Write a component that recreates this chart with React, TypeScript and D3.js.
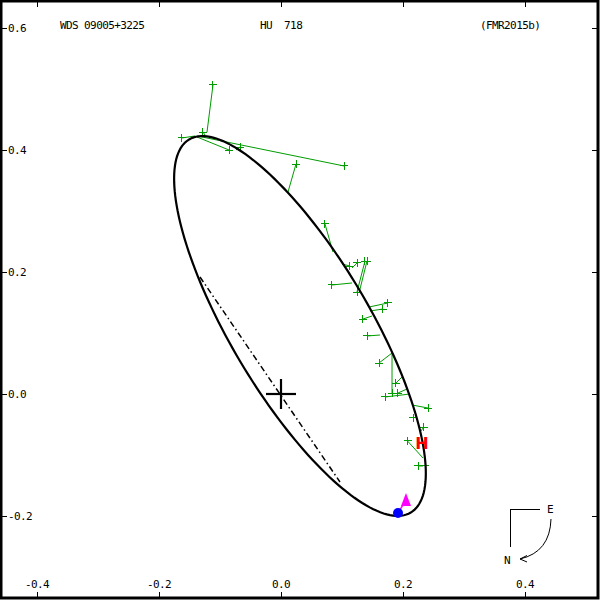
import * as React from 'react';
import * as d3 from 'd3';

const W = 600;
const H = 600;

const xTicks = [-0.4, -0.2, 0.0, 0.2, 0.4];
const yTicks = [0.6, 0.4, 0.2, 0.0, -0.2];
const xTickLabels = ['-0.4', '-0.2', '0.0', '0.2', '0.4'];
const yTickLabels = ['0.6', '0.4', '0.2', '0.0', '-0.2'];

const titleLeft = 'WDS 09005+3225';
const titleMid = 'HU  718';
const titleRight = '(FMR2015b)';

// apparent orbit: centre, semi-axes, tilt (deg, data coords)
const orbitCentre = [0.0311, 0.1115];
const orbitAxes = [0.3557, 0.1139];
const orbitTilt = -59.3;

// line of nodes ends
const nodesX = [-0.1328, 0.0967];
const nodesY = [0.1918, -0.1443];

// measures (observed) and their predicted positions on the orbit
const obsX = [-0.1115, -0.1279, -0.1623, -0.0852, -0.0672, 0.1033, 0.0246, 0.0721, 0.1131, 0.1246, 0.1377, 0.1410, 0.0836, 0.1246, 0.1754, 0.1672, 0.1344, 0.1410, 0.1607, 0.1820, 0.1885, 0.1705, 0.1918, 0.2410, 0.2164, 0.2344, 0.2074, 0.2246, 0.2361];
const obsY = [0.5066, 0.4295, 0.4197, 0.4000, 0.4049, 0.3738, 0.3770, 0.2787, 0.2098, 0.2148, 0.2180, 0.2180, 0.1787, 0.1672, 0.1492, 0.1393, 0.1229, 0.0951, 0.0508, 0.0016, 0.0180, -0.0049, 0.0016, -0.0230, -0.0393, -0.0541, -0.0770, -0.1180, -0.1180];
const predX = [-0.1213, -0.1246, -0.1410, -0.1377, -0.0738, -0.1377, 0.0115, 0.0852, 0.1000, 0.1164, 0.1246, 0.1279, 0.1164, 0.1262, 0.1443, 0.1459, 0.1492, 0.1623, 0.1820, 0.1820, 0.1984, 0.2115, 0.2066, 0.2148, 0.2180, 0.2279, 0.2328, 0.2328, 0.2377];
const predY = [0.4295, 0.4246, 0.4230, 0.4213, 0.4000, 0.4230, 0.3311, 0.2328, 0.2131, 0.2066, 0.1672, 0.1656, 0.1820, 0.1656, 0.1426, 0.1361, 0.1279, 0.0967, 0.0672, 0.0672, 0.0279, 0.0000, 0.0082, -0.0180, -0.0393, -0.0623, -0.1049, -0.1180, -0.1197];

const hMark = [0.2311, -0.0803];
const triMark = [0.2049, -0.1738];
const dotMark = [0.1918, -0.1951];

const font = '"DejaVu Sans Mono", monospace';

const App: React.FC = () => {
    const x = d3.scaleLinear().domain([-0.4, 0.4]).range([37, 525]);
    const y = d3.scaleLinear().domain([-0.2, 0.6]).range([516, 28]);

    const th = (orbitTilt * Math.PI) / 180;
    const pts: [number, number][] = d3.range(0, 361, 2).map((deg) => {
        const t = (deg * Math.PI) / 180;
        const ex = orbitAxes[0] * Math.cos(t);
        const ey = orbitAxes[1] * Math.sin(t);
        const dx = orbitCentre[0] + ex * Math.cos(th) - ey * Math.sin(th);
        const dy = orbitCentre[1] + ex * Math.sin(th) + ey * Math.cos(th);
        return [x(dx), y(dy)];
    });
    const orbitPath = d3.line().curve(d3.curveLinearClosed)(pts) || '';

    const green = '#009c00';
    const txt = { fontFamily: font, fontSize: 11, letterSpacing: '-0.6px', whiteSpace: 'pre' } as React.CSSProperties;

    const triX = x(triMark[0]);
    const triY = y(triMark[1]);

    return (
        <svg width={W} height={H} style={{ position: 'absolute', left: 0, top: 0, background: '#fff' }}>
            <rect x={1} y={1} width={597} height={597} fill="#fff" stroke="#000" strokeWidth={3} />

            {/* ticks */}
            {xTicks.map((v, i) => (
                <g key={'xt' + i}>
                    <line x1={x(v)} x2={x(v)} y1={2} y2={7} stroke="#000" shapeRendering="crispEdges" />
                    <line x1={x(v)} x2={x(v)} y1={592} y2={597} stroke="#000" shapeRendering="crispEdges" />
                    <text x={x(v)} y={588} textAnchor="middle" style={txt}>{xTickLabels[i]}</text>
                </g>
            ))}
            {yTicks.map((v, i) => (
                <g key={'yt' + i}>
                    <line x1={2} x2={7} y1={y(v)} y2={y(v)} stroke="#000" shapeRendering="crispEdges" />
                    <line x1={592} x2={597} y1={y(v)} y2={y(v)} stroke="#000" shapeRendering="crispEdges" />
                    <text x={8} y={y(v) + 4} style={txt}>{yTickLabels[i]}</text>
                </g>
            ))}

            <text x={60} y={29} style={txt}>{titleLeft}</text>
            <text x={260} y={29} style={txt} xmlSpace="preserve">{titleMid}</text>
            <text x={480} y={29} style={txt}>{titleRight}</text>

            {/* O-C lines and measures */}
            {obsX.map((ox, i) => (
                <g key={'o' + i} stroke={green} strokeWidth={1}>
                    <line x1={x(ox)} y1={y(obsY[i])} x2={x(predX[i])} y2={y(predY[i])} />
                    <line x1={x(ox) - 4} x2={x(ox) + 4} y1={y(obsY[i])} y2={y(obsY[i])} shapeRendering="crispEdges" />
                    <line x1={x(ox)} x2={x(ox)} y1={y(obsY[i]) - 4} y2={y(obsY[i]) + 4} shapeRendering="crispEdges" />
                </g>
            ))}

            {/* orbit */}
            <path d={orbitPath} fill="none" stroke="#000" strokeWidth={2.2} />

            {/* line of nodes */}
            <line x1={x(nodesX[0])} y1={y(nodesY[0])} x2={x(nodesX[1])} y2={y(nodesY[1])}
                stroke="#000" strokeWidth={1.5} strokeDasharray="6,3,1.5,3" />

            {/* primary */}
            <line x1={x(0) - 15} x2={x(0) + 15} y1={y(0)} y2={y(0)} stroke="#000" strokeWidth={2.2} />
            <line x1={x(0)} x2={x(0)} y1={y(0) - 15} y2={y(0) + 15} stroke="#000" strokeWidth={2.2} />

            {/* markers */}
            <text x={x(hMark[0])} y={y(hMark[1]) + 6} textAnchor="middle" fill="#ff0000"
                style={{ fontFamily: '"DejaVu Sans", sans-serif', fontSize: 16, fontWeight: 'bold' }}>H</text>
            <line x1={triX} y1={triY} x2={x(dotMark[0])} y2={y(dotMark[1])} stroke="#ff00ff" strokeWidth={1.5} />
            <path d={`M${triX},${triY - 7}L${triX + 5},${triY + 6}L${triX - 5},${triY + 6}Z`} fill="#ff00ff" />
            <circle cx={x(dotMark[0])} cy={y(dotMark[1])} r={5} fill="#0000ff" />

            {/* compass */}
            <g stroke="#000" fill="none" strokeWidth={1}>
                <path d="M510,547V509.5H540" shapeRendering="crispEdges" />
                <path d="M551,519Q550,552 520,559" />
                <path d="M527,555.5L520,559L527,562" />
            </g>
            <text x={550} y={513} textAnchor="middle" style={txt}>E</text>
            <text x={507} y={564} textAnchor="middle" style={txt}>N</text>
        </svg>
    );
};

export default App;
